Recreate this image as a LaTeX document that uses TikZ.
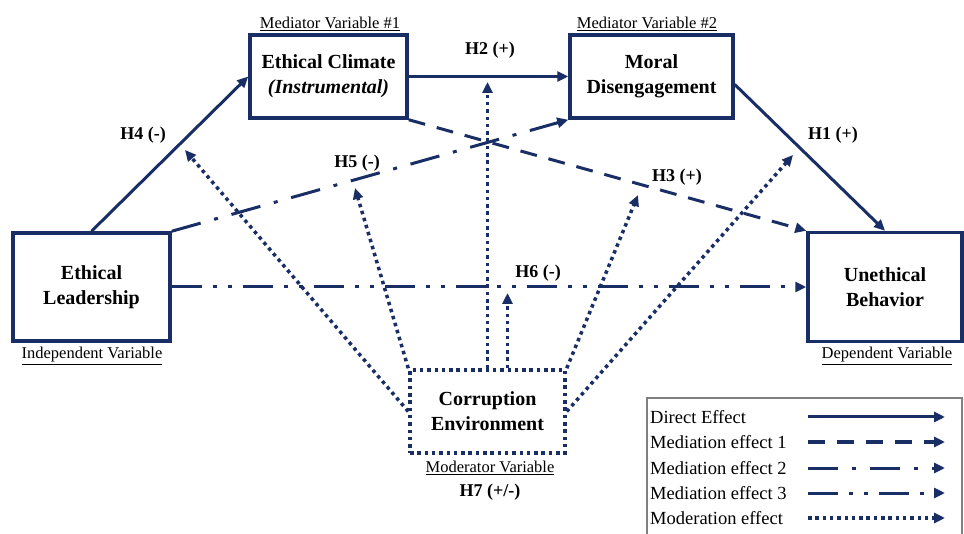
\documentclass[tikz,border=0pt]{standalone}
\usepackage{fontspec}
\setmainfont{Liberation Serif}
\usetikzlibrary{arrows.meta, calc, positioning}
\definecolor{navy}{HTML}{1A2E66}
\tikzset{var node/.style={rectangle,draw=navy,line width=3.5pt,align=center,inner sep=0pt,
    font=\fontsize{20}{25}\selectfont\bfseries},
  var label/.style={font=\fontsize{16.5}{18}\selectfont,inner sep=0pt},
  hyp label/.style={font=\fontsize{18}{20}\selectfont\bfseries,inner sep=0pt},
  legend text/.style={font=\fontsize{18.5}{20}\selectfont,anchor=west,inner sep=0pt},
  direct arrow/.style={draw=navy,line width=3pt,-{Triangle[length=11pt,width=10pt]}},
  med1 arrow/.style={direct arrow,dash pattern=on 17pt off 12pt},
  med2 arrow/.style={direct arrow,dash pattern=on 30pt off 14pt on 4pt off 14pt},
  med3 arrow/.style={direct arrow,dash pattern=on 30pt off 11pt on 4pt off 11pt on 4pt off 11pt},
  moder arrow/.style={direct arrow,line width=3.5pt,dash pattern=on 3.5pt off 3.8pt},
}
\begin{document}
\begin{tikzpicture}[x=1pt, y=-1pt]
       \useasboundingbox (0,0) rectangle (964,534);
       % variables
       \node[var node, minimum width=157pt, minimum height=108pt] (el) at (91.5,287) {Ethical\\Leadership};
       \node[var node, minimum width=154pt, minimum height=109pt] (ub) at (885,287) {Unethical\\Behavior};
       \node[var node, minimum width=157pt, minimum height=83pt] (ec) at (328.5,76.5) {Ethical Climate\\\textit{(Instrumental)}};
       \node[var node, minimum width=163pt, minimum height=83pt] (md) at (651.5,76.5) {Moral\\Disengagement};
       \node[var node, minimum width=155pt, minimum height=83pt, dash pattern=on 3.5pt off 3.8pt] (ce) at (487.5,411.5) {Corruption\\Environment};

       \node[var label] (elv) at (92,356) {\underline{Independent Variable}};
       \node[var label] (ubv) at (887,356) {\underline{Dependent Variable}};
       \node[var label] (ecv) at (330,24) {\underline{Mediator Variable \#1}};
       \node[var label] (mdv) at (647,24) {\underline{Mediator Variable \#2}};
       \node[var label] (cev) at (490,468) {\underline{Moderator Variable}};

       % hypotheses
       \node[hyp label] (h1) at (833,135) {H1 (+)};
       \node[hyp label] (h2) at (490,50) {H2 (+)};
       \node[hyp label] (h3) at (677,177) {H3 (+)};
       \node[hyp label] (h4) at (143,135) {H4 (-)};
       \node[hyp label] (h5) at (357,163) {H5 (-)};
       \node[hyp label] (h6) at (538,273) {H6 (-)};
       \node[hyp label] (h7) at (490,492) {H7 (+/-)};

       % paths
       \draw[direct arrow] (el.north) -- (ec.west);
       \draw[direct arrow] (ec.east) -- (md.west);
       \draw[direct arrow] ([yshift=-8pt]md.east) -- (ub.north);
       \draw[med1 arrow] (ec.south east) -- (ub.north west);
       \draw[med2 arrow] (el.north east) -- (md.south west);
       \draw[med3 arrow] (el.east) -- (ub.west);

       % moderation
       \coordinate (t4) at (185,150);
       \coordinate (t5) at (355,188);
       \coordinate (t2) at (487.5,82);
       \coordinate (t6) at (507.5,293);
       \coordinate (t3) at (638,195);
       \coordinate (t1) at (793,155);
       \draw[moder arrow] (ce.west) -- (t4);
       \draw[moder arrow] (ce.north west) -- (t5);
       \draw[moder arrow] (ce.north) -- (t2);
       \draw[moder arrow] ([xshift=20pt]ce.north) -- (t6);
       \draw[moder arrow] (ce.north east) -- (t3);
       \draw[moder arrow] (ce.east) -- (t1);

       % legend
       \draw[gray, line width=1.5pt] (647,534) -- (647,398) -- (962,398) -- (962,534);
       \node[legend text] (lg1) at (650,417) {Direct Effect};
       \node[legend text] (lg2) at (650,442) {Mediation effect 1};
       \node[legend text] (lg3) at (650,468) {Mediation effect 2};
       \node[legend text] (lg4) at (650,493) {Mediation effect 3};
       \node[legend text] (lg5) at (650,518) {Moderation effect};
       \coordinate (ls1) at (808,417); \coordinate (le1) at (945,417);
       \coordinate (ls2) at (808,442); \coordinate (le2) at (945,442);
       \coordinate (ls3) at (808,468); \coordinate (le3) at (945,468);
       \coordinate (ls4) at (808,493); \coordinate (le4) at (945,493);
       \coordinate (ls5) at (808,518); \coordinate (le5) at (945,518);
       \draw[direct arrow] (ls1) -- (le1);
       \draw[med1 arrow] (ls2) -- (le2);
       \draw[med2 arrow] (ls3) -- (le3);
       \draw[med3 arrow] (ls4) -- (le4);
       \draw[moder arrow] (ls5) -- (le5);
    \end{tikzpicture}
\end{document}
